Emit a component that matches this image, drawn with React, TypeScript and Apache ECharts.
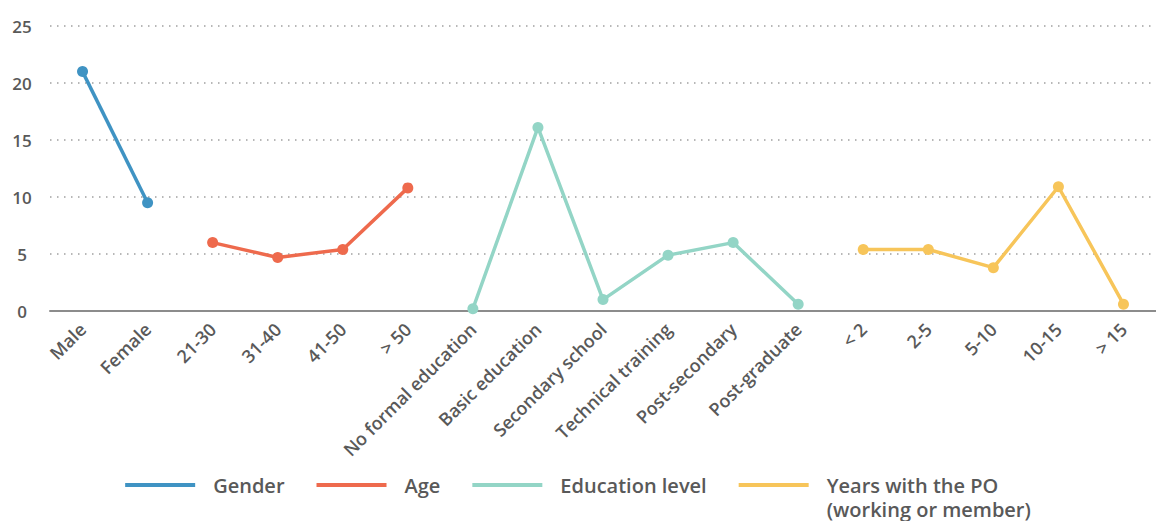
import React, { useEffect, useRef } from "react";
import * as echarts from "echarts";

const categories = [
  "Male", "Female",
  "21-30", "31-40", "41-50", "> 50",
  "No formal education", "Basic education", "Secondary school", "Technical training", "Post-secondary", "Post-graduate",
  "< 2", "2-5", "5-10", "10-15", "> 15",
];

const genderValues = [21, 9.5, null, null, null, null, null, null, null, null, null, null, null, null, null, null, null];
const ageValues = [null, null, 6, 4.7, 5.4, 10.8, null, null, null, null, null, null, null, null, null, null, null];
const educationValues = [null, null, null, null, null, null, 0.2, 16.1, 1, 4.9, 6, 0.6, null, null, null, null, null];
const yearsValues = [null, null, null, null, null, null, null, null, null, null, null, null, 5.4, 5.4, 3.8, 10.9, 0.6];

const seriesNames = ["Gender", "Age", "Education level", "Years with the PO (working or member)"];
const yearsLegendLines = ["Years with the PO", "(working or member)"];
const yTicks = { min: 0, max: 25, interval: 5 };

const colors = ["#3f93c3", "#ee6a4d", "#93d5c6", "#f7c55a"];

export default function App() {
  const ref = useRef<HTMLDivElement>(null);
  useEffect(() => {
    if (!ref.current) return;
    const chart = echarts.init(ref.current, null, { renderer: "svg" });
    const font = "'Open Sans', sans-serif";
    const textColor = "#595959";
    const mk = (name: string, data: any[], color: string) => ({
      name,
      type: "line",
      data,
      symbol: "circle",
      symbolSize: 11,
      itemStyle: { color },
      lineStyle: { color, width: 3.5 },
      connectNulls: false,
    });
    chart.setOption({
      animation: false,
      color: colors,
      grid: { left: 50, right: 0, top: 26, bottom: 210, containLabel: false },
      legend: {
        top: 451,
        left: "center",
        padding: 0,
        icon: "rect",
        itemWidth: 70,
        itemHeight: 4,
        itemGap: 32,
        formatter: (name: string) =>
          name === seriesNames[3]
            ? `{e| }\n{t|${yearsLegendLines[0]}}\n{t|${yearsLegendLines[1]}}`
            : name,
        textStyle: {
          fontFamily: font,
          fontSize: 20,
          fontWeight: 600,
          color: textColor,
          padding: [0, 0, 0, 13],
          rich: {
            e: { lineHeight: 24, fontSize: 20, fontFamily: font },
            t: { lineHeight: 24, fontSize: 20, fontWeight: 600, fontFamily: font, color: textColor },
          },
        },
        data: seriesNames,
      },
      xAxis: {
        type: "category",
        data: categories,
        boundaryGap: true,
        axisLine: { show: true, lineStyle: { color: "#8c8c8c", width: 2 } },
        axisTick: { show: false },
        splitLine: { show: false },
        axisLabel: {
          interval: 0,
          rotate: 45,
          margin: 15,
          fontFamily: font,
          fontSize: 18,
          fontWeight: 600,
          color: textColor,
        },
      },
      yAxis: {
        type: "value",
        min: yTicks.min,
        max: yTicks.max,
        interval: yTicks.interval,
        axisLine: { show: false },
        axisTick: { show: false },
        axisLabel: {
          margin: 28,
          align: "center",
          fontFamily: font,
          fontSize: 17,
          fontWeight: 600,
          color: textColor,
        },
        splitLine: { show: true, lineStyle: { color: "#a0a0a0", width: 1.5, type: [1.5, 5.5] } },
      },
      series: [
        mk(seriesNames[0], genderValues, colors[0]),
        mk(seriesNames[1], ageValues, colors[1]),
        mk(seriesNames[2], educationValues, colors[2]),
        mk(seriesNames[3], yearsValues, colors[3]),
      ],
    });
    return () => chart.dispose();
  }, []);
  return (
    <div
      ref={ref}
      style={{ position: "absolute", left: 0, top: 0, width: 1156, height: 521, background: "#fff" }}
    />
  );
}
